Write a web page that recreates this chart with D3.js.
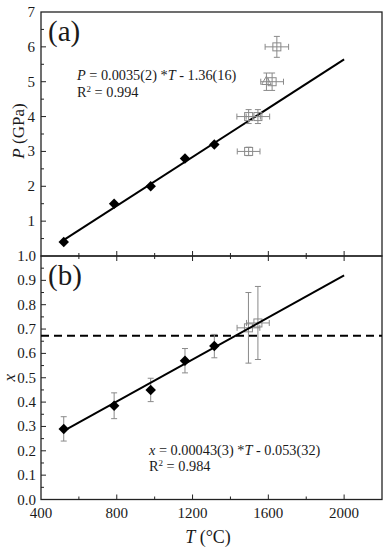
<!DOCTYPE html>
<html>
<head>
<meta charset="utf-8">
<script src="https://cdn.jsdelivr.net/npm/d3@7.9.0/dist/d3.min.js"></script>
<style>
  body { margin: 0; background: #fff; }
</style>
</head>
<body>
<svg id="chart" width="386" height="550"></svg>
<script>
// panel (a): P vs T
const fitT = [515, 2000];
const fitP = [0.44, 5.64];
const diamondT = [520, 786, 979, 1160, 1315];
const diamondP = [0.4, 1.5, 2.0, 2.8, 3.2];
const openT = [1645, 1620, 1496, 1545, 1496];
const openP = [6.0, 5.0, 4.0, 4.0, 3.0];
const openTerr = [62, 60, 62, 62, 60];
const openPerr = [0.3, 0.25, 0.2, 0.2, 0.12];
const triT = [1590];
const triP = [5.0];

// panel (b): x vs T
const fitX = [0.28, 0.92];
const diamondX = [0.29, 0.385, 0.45, 0.57, 0.63];
const diamondXerr = [0.05, 0.053, 0.048, 0.05, 0.048];
const openBT = [1495, 1545];
const openBX = [0.705, 0.725];
const openBTerr = [60, 60];
const openBXerr = [0.145, 0.15];
const dashX = 0.672;

const tTicks = [400, 800, 1200, 1600, 2000];
const pTicks = [1, 2, 3, 4, 5, 6, 7];
const xTicks = [0, 0.1, 0.2, 0.3, 0.4, 0.5, 0.6, 0.7, 0.8, 0.9, 1.0];

const svg = d3.select('#chart');
const left = 41, right = 382;

const x = d3.scaleLinear().domain([400, 2200]).range([left, right]);
const yA = d3.scaleLinear().domain([0, 7]).range([256, 12]);
const yB = d3.scaleLinear().domain([0, 1]).range([499.5, 256]);

const grey = '#8a8a8a';
const ink = '#1a1a1a';
const serif = 'Liberation Serif';

function label(px, py, size) {
  return svg.append('text')
    .attr('x', px).attr('y', py)
    .attr('font-size', size).attr('fill', ink)
    .style('font-family', serif);
}

function frame(top, bottom) {
  svg.append('rect')
    .attr('x', left).attr('y', top)
    .attr('width', right - left).attr('height', bottom - top)
    .attr('fill', 'none').attr('stroke', '#222').attr('stroke-width', 1.3);
}

frame(12, 256);
frame(256, 499.5);

// y ticks panel a
d3.range(0.5, 7, 0.5).forEach(v => {
  const major = Number.isInteger(v);
  svg.append('line')
    .attr('x1', left).attr('x2', left + (major ? 5 : 3))
    .attr('y1', yA(v)).attr('y2', yA(v))
    .attr('stroke', '#222').attr('stroke-width', 1);
});
pTicks.forEach(v => {
  label(left - 6, yA(v) + 5, 15).attr('text-anchor', 'end').text(v);
});

// y ticks panel b
d3.range(0.05, 1.0, 0.05).forEach(v => {
  const major = Math.abs(v * 10 - Math.round(v * 10)) < 1e-6;
  svg.append('line')
    .attr('x1', left).attr('x2', left + (major ? 5 : 3))
    .attr('y1', yB(v)).attr('y2', yB(v))
    .attr('stroke', '#222').attr('stroke-width', 1);
});
xTicks.forEach(v => {
  label(left - 5, yB(v) + 5, 15).attr('text-anchor', 'end').text(v.toFixed(1));
});

// x ticks (shared line and bottom)
d3.range(600, 2200, 200).forEach(v => {
  const major = v % 400 === 0;
  const len = major ? 5 : 3;
  svg.append('line')
    .attr('x1', x(v)).attr('x2', x(v))
    .attr('y1', 256 - len).attr('y2', 256 + len)
    .attr('stroke', '#222').attr('stroke-width', 1);
  svg.append('line')
    .attr('x1', x(v)).attr('x2', x(v))
    .attr('y1', 499.5).attr('y2', 499.5 - len)
    .attr('stroke', '#222').attr('stroke-width', 1);
});
tTicks.forEach(v => {
  label(x(v), 518, 15).attr('text-anchor', 'middle').text(v);
});

// axis titles
label(0, 0, 17)
  .attr('transform', `translate(24,131) rotate(-90)`)
  .attr('text-anchor', 'middle')
  .html('<tspan font-style="italic">P</tspan> (GPa)');
label(0, 0, 17)
  .attr('transform', `translate(15,${yB(0.5)}) rotate(-90)`)
  .attr('text-anchor', 'middle')
  .attr('font-style', 'italic')
  .text('x');
label(208, 543, 18)
  .attr('text-anchor', 'middle')
  .html('<tspan font-style="italic">T</tspan> (°C)');

// panel letters
label(48, 41, 29).text('(a)');
label(48, 285, 29).text('(b)');

// equations
label(77, 80, 14.3)
  .html('<tspan font-style="italic">P</tspan> = 0.0035(2) *<tspan font-style="italic">T</tspan> - 1.36(16)');
label(77, 97, 14.3)
  .html('R<tspan dy="-5" font-size="9">2</tspan><tspan dy="5"> = 0.994</tspan>');
label(149, 455, 14.3)
  .html('<tspan font-style="italic">x</tspan> = 0.00043(3) *<tspan font-style="italic">T</tspan> - 0.053(32)');
label(149, 471, 14.3)
  .html('R<tspan dy="-5" font-size="9">2</tspan><tspan dy="5"> = 0.984</tspan>');

// error bar helper
function errBar(cx, cy, x0, x1, y0, y1, cap) {
  const g = svg.append('g').attr('stroke', grey).attr('stroke-width', 1);
  if (x0 !== null) {
    g.append('line').attr('x1', x0).attr('x2', x1).attr('y1', cy).attr('y2', cy);
    g.append('line').attr('x1', x0).attr('x2', x0).attr('y1', cy - cap).attr('y2', cy + cap);
    g.append('line').attr('x1', x1).attr('x2', x1).attr('y1', cy - cap).attr('y2', cy + cap);
  }
  g.append('line').attr('x1', cx).attr('x2', cx).attr('y1', y0).attr('y2', y1);
  g.append('line').attr('x1', cx - cap).attr('x2', cx + cap).attr('y1', y0).attr('y2', y0);
  g.append('line').attr('x1', cx - cap).attr('x2', cx + cap).attr('y1', y1).attr('y2', y1);
}

// panel a fit line
svg.append('path')
  .attr('d', d3.line()(fitT.map((t, i) => [x(t), yA(fitP[i])])))
  .attr('stroke', '#000').attr('stroke-width', 2).attr('fill', 'none');

// panel a open squares
openT.forEach((t, i) => {
  errBar(x(t), yA(openP[i]), x(t - openTerr[i]), x(t + openTerr[i]),
    yA(openP[i] - openPerr[i]), yA(openP[i] + openPerr[i]), 3);
});
openT.forEach((t, i) => {
  svg.append('rect')
    .attr('x', x(t) - 4).attr('y', yA(openP[i]) - 4)
    .attr('width', 8).attr('height', 8)
    .attr('fill', 'none').attr('stroke', grey).attr('stroke-width', 1);
});
triT.forEach((t, i) => {
  errBar(x(t), yA(triP[i]), null, null, yA(triP[i] - 0.25), yA(triP[i] + 0.25), 3);
  svg.append('path')
    .attr('d', d3.symbol(d3.symbolTriangle, 40)())
    .attr('transform', `translate(${x(t)},${yA(triP[i])})`)
    .attr('fill', 'none').attr('stroke', grey).attr('stroke-width', 1);
});

// panel a diamonds
const diamond = d3.symbol(d3.symbolDiamond2, 70)();
diamondT.forEach((t, i) => {
  svg.append('path')
    .attr('d', diamond)
    .attr('transform', `translate(${x(t)},${yA(diamondP[i])})`)
    .attr('fill', '#000');
});

// panel b dashed
svg.append('line')
  .attr('x1', left).attr('x2', right)
  .attr('y1', yB(dashX)).attr('y2', yB(dashX))
  .attr('stroke', '#000').attr('stroke-width', 2)
  .attr('stroke-dasharray', '8,5');

// panel b error bars
diamondT.forEach((t, i) => {
  errBar(x(t), yB(diamondX[i]), null, null,
    yB(diamondX[i] - diamondXerr[i]), yB(diamondX[i] + diamondXerr[i]), 3);
});
openBT.forEach((t, i) => {
  errBar(x(t), yB(openBX[i]), x(t - openBTerr[i]), x(t + openBTerr[i]),
    yB(openBX[i] - openBXerr[i]), yB(openBX[i] + openBXerr[i]), 3);
  svg.append('rect')
    .attr('x', x(t) - 4).attr('y', yB(openBX[i]) - 4)
    .attr('width', 8).attr('height', 8)
    .attr('fill', 'none').attr('stroke', grey).attr('stroke-width', 1);
});

// panel b fit line
svg.append('path')
  .attr('d', d3.line()(fitT.map((t, i) => [x(t), yB(fitX[i])])))
  .attr('stroke', '#000').attr('stroke-width', 2).attr('fill', 'none');

diamondT.forEach((t, i) => {
  svg.append('path')
    .attr('d', diamond)
    .attr('transform', `translate(${x(t)},${yB(diamondX[i])})`)
    .attr('fill', '#000');
});
</script>
</body>
</html>
